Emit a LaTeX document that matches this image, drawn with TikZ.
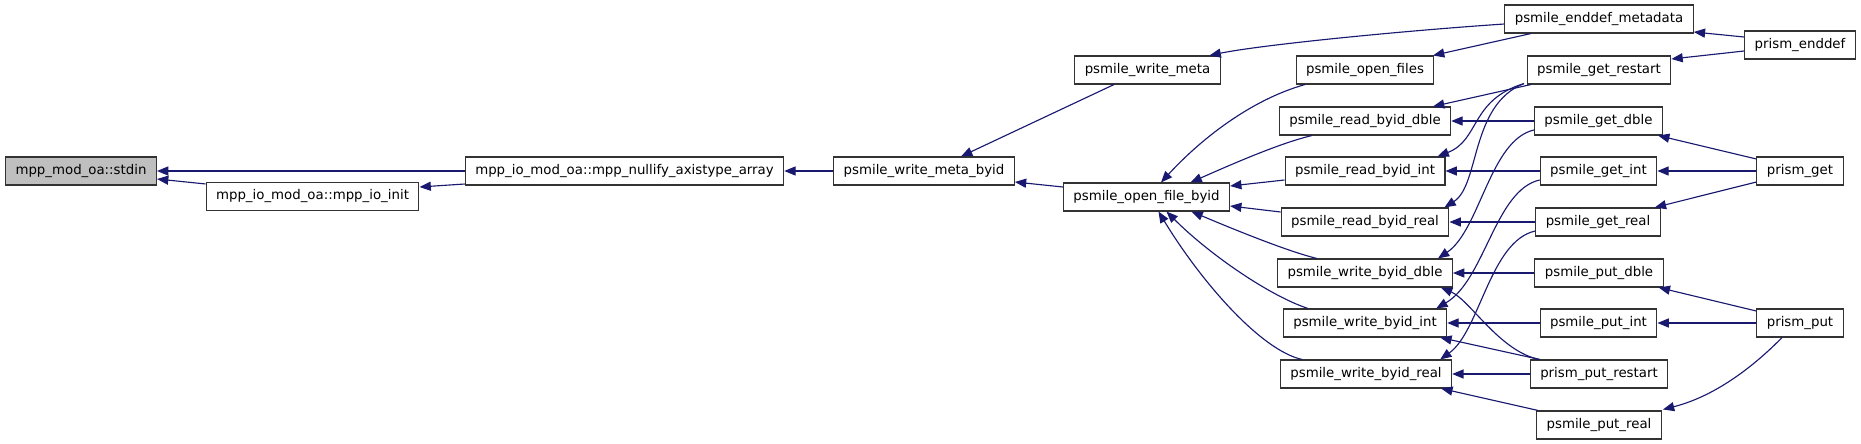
\documentclass[tikz,border=0pt]{standalone}
\usepackage{fontspec}
\setmainfont{DejaVu Sans}
\usetikzlibrary{arrows.meta}
\definecolor{edgeblue}{HTML}{191970}
\definecolor{rootgray}{HTML}{BFBFBF}

\begin{document}
\begin{tikzpicture}[x=0.75pt, y=-0.75pt,
  fn/.style={rectangle, draw=black!80, line width=0.8pt, fill=white, minimum height=21pt, inner xsep=7.5pt, inner ysep=0pt, font=\fontsize{10pt}{12pt}\selectfont},
  call/.style={-{Triangle[length=8.5pt,width=6.8pt]}, draw=edgeblue, color=edgeblue, line width=0.85pt}]
\useasboundingbox (0,0) rectangle (1861,443);

% Left part of the call chain
\node[fn, fill=rootgray] (stdin) at (81,171) {mpp\_mod\_oa::stdin};
\node[fn] (ioinit) at (312.5,196.5) {mpp\_io\_mod\_oa::mpp\_io\_init};
\node[fn] (nullify) at (624.5,171) {mpp\_io\_mod\_oa::mpp\_nullify\_axistype\_array};
\node[fn] (metabyid) at (924,171) {psmile\_write\_meta\_byid};
\node[fn] (meta) at (1147.5,70) {psmile\_write\_meta};
\node[fn] (openbyid) at (1146.5,197) {psmile\_open\_file\_byid};

% Middle column
\node[fn] (openfiles) at (1365,70) {psmile\_open\_files};
\node[fn] (readdble) at (1365,121) {psmile\_read\_byid\_dble};
\node[fn] (readint) at (1365,171) {psmile\_read\_byid\_int};
\node[fn] (readreal) at (1365,222) {psmile\_read\_byid\_real};
\node[fn] (writedble) at (1365,273) {psmile\_write\_byid\_dble};
\node[fn] (writeint) at (1365,323) {psmile\_write\_byid\_int};
\node[fn] (writereal) at (1366,374) {psmile\_write\_byid\_real};

% Right columns
\node[fn] (enddefmeta) at (1599,19) {psmile\_enddef\_metadata};
\node[fn] (getrestart) at (1599,70) {psmile\_get\_restart};
\node[fn] (getdble) at (1598.5,121) {psmile\_get\_dble};
\node[fn] (getint) at (1598.5,171) {psmile\_get\_int};
\node[fn] (getreal) at (1598,222) {psmile\_get\_real};
\node[fn] (putdble) at (1599,273) {psmile\_put\_dble};
\node[fn] (putint) at (1598.5,323) {psmile\_put\_int};
\node[fn] (putrestart) at (1599,374) {prism\_put\_restart};
\node[fn] (putreal) at (1599,425) {psmile\_put\_real};
\node[fn] (enddef) at (1800,45) {prism\_enddef};
\node[fn] (prismget) at (1800,171) {prism\_get};
\node[fn] (prismput) at (1800,323) {prism\_put};

% Calls into stdin and its direct callers
\draw[call] (nullify.west) -- (stdin.east);
\draw[call] ([shift={(0,2)}]ioinit.north west) -- ([shift={(0,8)}]stdin.east);
\draw[call] ([shift={(0,13)}]nullify.west) -- ([shift={(0,-9.5)}]ioinit.east);
\draw[call] (metabyid.west) -- (nullify.east);
\draw[call] ([shift={(-33.5,0)}]meta.south) -- ([shift={(37,0)}]metabyid.north);
\draw[call] ([shift={(0,-10)}]openbyid.west) -- ([shift={(0,11)}]metabyid.east);
\draw[call] ([shift={(0,5)}]enddefmeta.west) .. controls (1400,31) and (1260,45) .. ([shift={(62,0)}]meta.north);

% Calls into psmile_open_file_byid
\draw[call] ([shift={(-60,0)}]openfiles.south) .. controls (1250,100) and (1200,140) .. ([shift={(14.5,0)}]openbyid.north);
\draw[call] ([shift={(-53,0)}]readdble.south) .. controls (1280,143) and (1230,165) .. ([shift={(44,0)}]openbyid.north);
\draw[call] ([shift={(0,9)}]readint.west) -- ([shift={(0,-11)}]openbyid.east);
\draw[call] ([shift={(0,-10)}]readreal.west) -- ([shift={(0,9)}]openbyid.east);
\draw[call] ([shift={(-48,0)}]writedble.north) .. controls (1290,252) and (1240,232) .. ([shift={(45,0)}]openbyid.south);
\draw[call] ([shift={(-57,0)}]writeint.north) .. controls (1270,296) and (1210,255) .. ([shift={(20,0)}]openbyid.south);
\draw[call] ([shift={(-64,0)}]writereal.north) .. controls (1260,350) and (1200,280) .. ([shift={(12,0)}]openbyid.south);

% Enddef calls
\draw[call] ([shift={(-68,0)}]enddefmeta.south) -- ([shift={(68,0)}]openfiles.north);
\draw[call] ([shift={(0,-8)}]enddef.west) -- ([shift={(0,13)}]enddefmeta.east);
\draw[call] ([shift={(0,6)}]enddef.west) -- ([shift={(0,-11)}]getrestart.east);

% Get calls
\draw[call] ([shift={(-68,0)}]getrestart.south) -- ([shift={(68,0)}]readdble.north);
\draw[call] ([shift={(-75,-1)}]getrestart.south) .. controls (1470,100) and (1480,140) .. ([shift={(-8,0)}]readint.north east);
\draw[call] ([shift={(-75,-1)}]getrestart.south) .. controls (1470,105) and (1480,185) .. ([shift={(-5,0)}]readreal.north east);
\draw[call] (getdble.west) -- (readdble.east);
\draw[call] ([shift={(0,9)}]getdble.west) .. controls (1490,140) and (1480,230) .. ([shift={(-15,0)}]writedble.north east);
\draw[call] (getint.west) -- (readint.east);
\draw[call] ([shift={(0,9)}]getint.west) .. controls (1495,190) and (1485,280) .. ([shift={(-11,0)}]writeint.north east);
\draw[call] (getreal.west) -- (readreal.east);
\draw[call] ([shift={(0,9)}]getreal.west) .. controls (1490,241) and (1480,331) .. ([shift={(-12,0)}]writereal.north east);
\draw[call] ([shift={(0,-12)}]prismget.west) -- ([shift={(-5,0)}]getdble.south east);
\draw[call] (prismget.west) -- (getint.east);
\draw[call] ([shift={(0,11)}]prismget.west) -- ([shift={(-6,0)}]getreal.north east);

% Put calls
\draw[call] (putdble.west) -- (writedble.east);
\draw[call] (putint.west) -- (writeint.east);
\draw[call] (putrestart.west) -- (writereal.east);
\draw[call] ([shift={(10,0)}]putrestart.north west) .. controls (1500,352) and (1470,300) .. ([shift={(-12,0)}]writedble.south east);
\draw[call] ([shift={(10,0)}]putrestart.north west) -- ([shift={(-7,0)}]writeint.south east);
\draw[call] ([shift={(2,0)}]putreal.north west) -- ([shift={(-11,0)}]writereal.south east);
\draw[call] ([shift={(0,-12)}]prismput.west) -- ([shift={(-5,0)}]putdble.south east);
\draw[call] (prismput.west) -- (putint.east);
\draw[call] ([shift={(-18,0)}]prismput.south) .. controls (1760,360) and (1720,395) .. ([shift={(1,-1)}]putreal.north east);
\end{tikzpicture}
\end{document}
